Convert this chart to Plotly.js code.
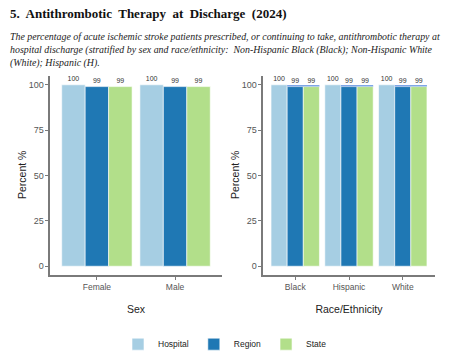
<!DOCTYPE html>
<html>
<head>
<meta charset="utf-8">
<script src="https://cdn.plot.ly/plotly-3.0.1.min.js"></script>
<style>html,body{margin:0;padding:0;background:#fff;}#chart{width:450px;height:359px;}</style>
</head>
<body>
<div id="chart"></div>
<script>
var sexCategories = ["Female", "Male"];
var raceCategories = ["Black", "Hispanic", "White"];
var seriesNames = ["Hospital", "Region", "State"];
var seriesColors = ["#a6cee3", "#1f78b4", "#b2df8a"];
var sexHospital = [100, 100];
var sexRegion = [99, 99];
var sexState = [99, 99];
var raceHospital = [100, 100, 100];
var raceRegion = [99, 99, 99];
var raceState = [99, 99, 99];
var yTicks = [0, 25, 50, 75, 100];

var sexSeries = [sexHospital, sexRegion, sexState];
var raceSeries = [raceHospital, raceRegion, raceState];
var labelFont = {family: "Liberation Sans, Arial, sans-serif", size: 7, color: "#333333"};

var traces = [];
for (var i = 0; i < 3; i++) {
  traces.push({
    type: "bar", x: sexCategories, y: sexSeries[i], name: seriesNames[i],
    xaxis: "x", yaxis: "y", legendgroup: seriesNames[i], showlegend: true,
    marker: {color: seriesColors[i], line: {color: "#ffffff", width: 0.6}},
    text: sexSeries[i].map(String), textposition: "outside", cliponaxis: false,
    textfont: labelFont, hoverinfo: "skip"
  });
}
for (var j = 0; j < 3; j++) {
  traces.push({
    type: "bar", x: raceCategories, y: raceSeries[j], name: seriesNames[j],
    xaxis: "x2", yaxis: "y2", legendgroup: seriesNames[j], showlegend: false,
    marker: {color: seriesColors[j], line: {color: "#ffffff", width: 0.6}},
    text: raceSeries[j].map(String), textposition: "outside", cliponaxis: false,
    textfont: labelFont, hoverinfo: "skip"
  });
}

// thin highlight band drawn above Region/State bars in the race panel
var shapes = raceCategories.map(function (c, k) {
  return {type: "rect", xref: "x2", yref: "y2", x0: k - 0.15, x1: k + 0.45,
          y0: raceRegion[k], y1: raceHospital[k] - 0.1,
          fillcolor: "#7ea6e6", line: {width: 0}, layer: "above"};
});

var sans = "Liberation Sans, Arial, sans-serif";
var axisCommon = {
  showline: true, linecolor: "#7a7a7a", linewidth: 1.5, ticks: "outside",
  ticklen: 3, tickcolor: "#7a7a7a", tickwidth: 1, showgrid: false, zeroline: false,
  fixedrange: true
};
function yAxis(anchor) {
  return Object.assign({}, axisCommon, {
    anchor: anchor, domain: [0.2201, 0.7855], range: [-5, 105],
    tickvals: yTicks, ticktext: yTicks.map(String),
    tickfont: {family: sans, size: 9, color: "#555555"}
  });
}
function xAxis(anchor, domain, n, label) {
  return Object.assign({}, axisCommon, {
    anchor: anchor, domain: domain, range: [-0.6, n - 0.4], type: "category",
    tickfont: {family: sans, size: 8.5, color: "#555555"},
    title: {text: label, font: {family: sans, size: 10.5, color: "#222"}, standoff: 14}
  });
}
var yTitleFont = {family: sans, size: 10.5, color: "#222"};

var layout = {
  width: 450, height: 359,
  margin: {l: 0, r: 0, t: 0, b: 0},
  paper_bgcolor: "#ffffff", plot_bgcolor: "#ffffff",
  barmode: "group", bargap: 0.1, bargroupgap: 0,
  showlegend: true,
  xaxis: xAxis("y", [0.1111, 0.4933], sexCategories.length, "Sex"),
  yaxis: yAxis("x"),
  xaxis2: xAxis("y2", [0.5844, 0.9667], raceCategories.length, "Race/Ethnicity"),
  yaxis2: yAxis("x2"),
  shapes: shapes,
  legend: {
    orientation: "h", x: 0.5, xanchor: "center", y: 1 - 350/359, yanchor: "middle",
    font: {family: sans, size: 8.5, color: "#222"},
    itemwidth: 30, traceorder: "normal", tracegroupgap: 0
  },
  annotations: [
    {xref: "paper", yref: "paper", x: 0.018, y: 1 - 14/359, xanchor: "left", yanchor: "middle",
     text: "<b>5.  Antithrombotic  Therapy  at  Discharge  (2024)</b>", showarrow: false,
     font: {family: "Liberation Serif, DejaVu Serif, serif", size: 13, color: "#111"}},
    {xref: "paper", yref: "paper", x: 0.018, y: 1 - 29/359, xanchor: "left", yanchor: "top", align: "left",
     text: "<i>The percentage of acute ischemic stroke patients prescribed, or continuing to take, antithrombotic therapy at<br>hospital discharge (stratified by sex and race/ethnicity:  Non-Hispanic Black (Black); Non-Hispanic White<br>(White); Hispanic (H).</i>",
     showarrow: false,
     font: {family: "Liberation Serif, DejaVu Serif, serif", size: 9.9, color: "#222"}},
    {xref: "paper", yref: "paper", x: 22/450, y: 1 - 178/359, xanchor: "center", yanchor: "middle",
     text: "Percent %", textangle: -90, showarrow: false, font: yTitleFont},
    {xref: "paper", yref: "paper", x: 235/450, y: 1 - 178/359, xanchor: "center", yanchor: "middle",
     text: "Percent %", textangle: -90, showarrow: false, font: yTitleFont}
  ]
};

Plotly.newPlot("chart", traces, layout, {displayModeBar: false, staticPlot: true});
</script>
</body>
</html>
